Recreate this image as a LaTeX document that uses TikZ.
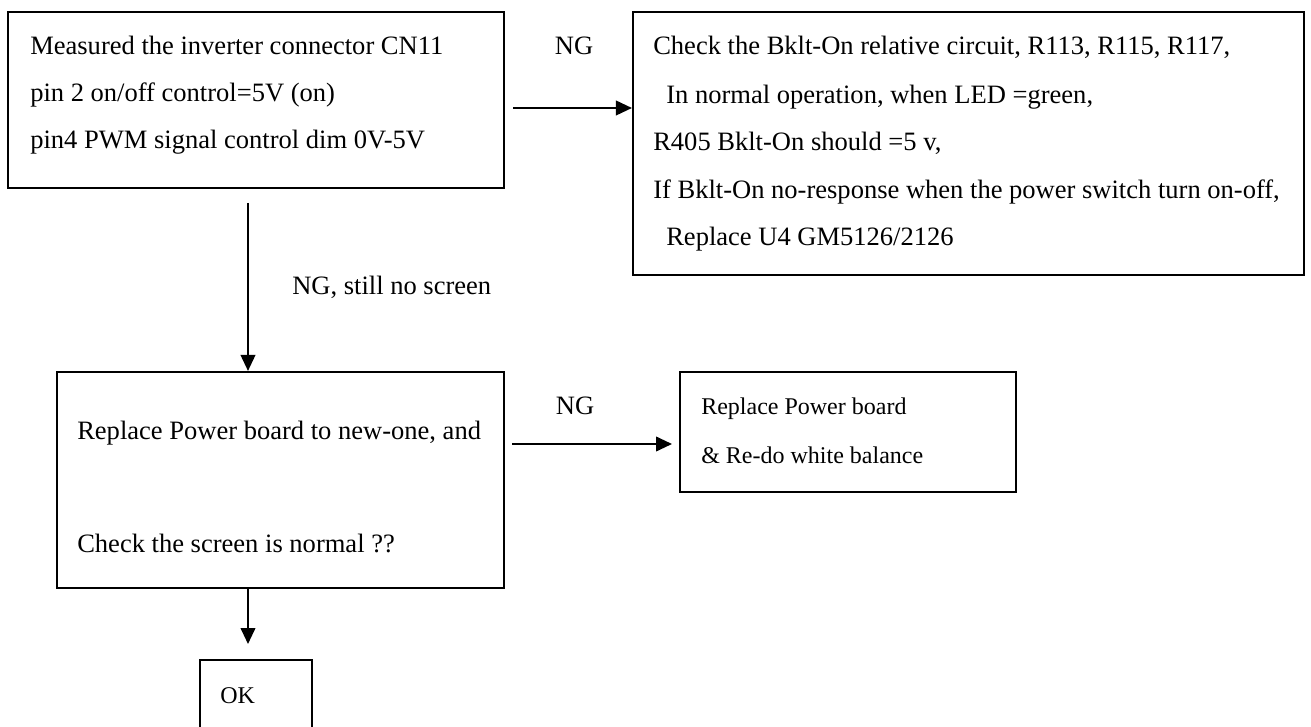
\documentclass[tikz,border=0pt]{standalone}
\usepackage{fontspec}
\setmainfont{Liberation Serif}
\usetikzlibrary{arrows.meta,calc}
\tikzset{
  box/.style={draw=black, line width=1.6pt, rectangle, inner sep=0pt},
  txt/.style={anchor=base west, inner sep=0pt, font=\fontsize{19.9}{23}\selectfont},
  stxt/.style={anchor=base west, inner sep=0pt, font=\fontsize{18}{21}\selectfont},
  arr/.style={draw=black, line width=1.4pt, -{Triangle[length=12pt,width=11pt]}},
}
\begin{document}
\begin{tikzpicture}[x=0.75pt, y=-0.75pt]
\useasboundingbox (0,0) rectangle (1311,727);
% boxes
\node[box, minimum width=496*0.75pt, minimum height=176*0.75pt] (b1) at (256,100) {};
\node[box, minimum width=671*0.75pt, minimum height=263*0.75pt] (b2) at (968.5,143.5) {};
\node[box, minimum width=447*0.75pt, minimum height=216*0.75pt] (b3) at (280.5,480) {};
\node[box, minimum width=336*0.75pt, minimum height=120*0.75pt] (b4) at (848,432) {};
\node[box, minimum width=112*0.75pt, minimum height=100*0.75pt] (b5) at (256,710) {};
% texts box 1
\node[txt] (t11) at (30,55) {Measured the inverter connector CN11};
\node[txt] (t12) at (30,102) {pin 2 on/off control=5V (on)};
\node[txt] (t13) at (30,149) {pin4 PWM signal control dim 0V-5V};
% texts box 2
\node[txt] (t21) at (653,55) {Check the Bklt-On relative circuit, R113, R115, R117,};
\node[txt] (t22) at (666,104) {In normal operation, when LED =green,};
\node[txt] (t23) at (653,151) {R405 Bklt-On should =5 v,};
\node[txt] (t24) at (653,199) {If Bklt-On no-response when the power switch turn on-off,};
\node[txt] (t25) at (666,246) {Replace U4 GM5126/2126};
% texts box 3
\node[txt] (t31) at (77,440) {Replace Power board to new-one, and};
\node[txt] (t32) at (77,552) {Check the screen is normal ??};
% texts box 4
\node[stxt] (t41) at (701,415) {Replace Power board};
\node[stxt] (t42) at (701,463) {\&~Re-do white balance};
% OK
\node[stxt] (t51) at (220,703) {OK};
% labels
\node[txt, anchor=base] (l1) at (574,55) {NG};
\node[txt, anchor=base] (l2) at (575,415) {NG};
\node[txt] (l3) at (292,295) {NG, still no screen};
% connectors
\coordinate (a1) at (0,108);
\draw[arr] ($(b1.east |- a1)+(8,0)$) -- (b2.west |- a1);
\coordinate (d1) at (248,203);
\draw[arr] (d1) -- (d1 |- b3.north);
\coordinate (a2s) at (512,444);
\coordinate (a2e) at (672,444);
\draw[arr] (a2s) -- (a2e);
\coordinate (d2e) at (248,644);
\draw[arr] (b3.south -| d2e) -- (d2e);
\end{tikzpicture}
\end{document}
